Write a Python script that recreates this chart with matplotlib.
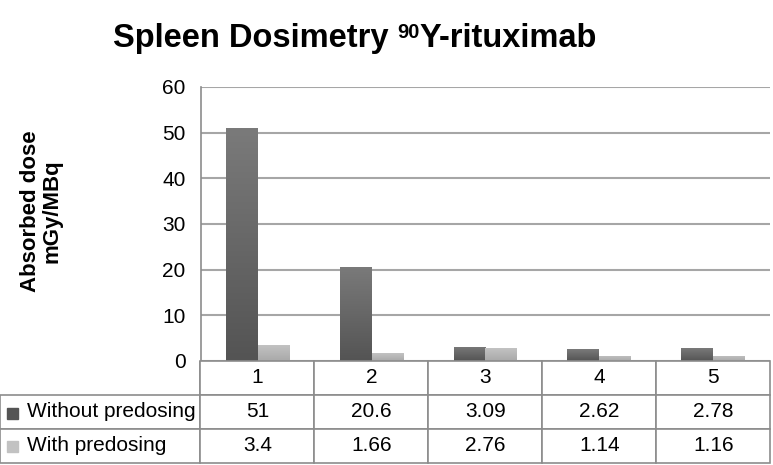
import numpy as np
import matplotlib.pyplot as plt
from matplotlib.colors import LinearSegmentedColormap
from matplotlib.patches import Rectangle

plt.rcParams['font.family'] = ['Liberation Sans', 'DejaVu Sans']

# data
patients = ['1', '2', '3', '4', '5']
without_predosing = [51, 20.6, 3.09, 2.62, 2.78]
with_predosing = [3.4, 1.66, 2.76, 1.14, 1.16]
without_labels = ['51', '20.6', '3.09', '2.62', '2.78']
with_labels = ['3.4', '1.66', '2.76', '1.14', '1.16']
series_names = ['Without predosing', 'With predosing']

dark_top, dark_bot = '#7a7a7a', '#545454'
light_top, light_bot = '#c2c2c2', '#a9a9a9'
grid_col = '#a6a6a6'
edge_col = '#8c8c8c'

W, H = 773, 465
fig = plt.figure(figsize=(W / 100, H / 100), dpi=100)
ax = fig.add_axes([0.260, 0.2237, 0.736, 0.5893])

x = np.arange(len(patients))
w = 0.28
b1 = ax.bar(x - w/2, without_predosing, w, color=dark_bot, zorder=3)
b2 = ax.bar(x + w/2, with_predosing, w, color=light_bot, zorder=3)

# vertical gradient on each bar
def shade(bars, top, bot):
    cmap = LinearSegmentedColormap.from_list('g', [bot, top])
    grad = np.linspace(0, 1, 100).reshape(-1, 1)
    for bar in bars:
        x0, y0 = bar.get_x(), bar.get_y()
        bw, bh = bar.get_width(), bar.get_height()
        im = ax.imshow(grad, extent=[x0, x0 + bw, y0, y0 + bh], origin='lower',
                       cmap=cmap, aspect='auto', zorder=3.5)
        im.set_clip_path(bar)

shade(b1, dark_top, dark_bot)
shade(b2, light_top, light_bot)

ax.set_xlim(-0.5, len(patients) - 0.5)
ax.set_ylim(0, 60)
ax.set_yticks(range(0, 61, 10))
ax.tick_params(axis='y', labelsize=15, length=0, pad=11)
ax.set_xticks([])
ax.yaxis.grid(True, color=grid_col, lw=1.5, zorder=0)
for s in ['top', 'right', 'bottom']:
    ax.spines[s].set_visible(False)
ax.spines['left'].set_color(edge_col)
ax.spines['left'].set_linewidth(1.2)

fig.text(41 / W, 1 - 211 / H, 'Absorbed dose\nmGy/MBq', fontsize=16,
         fontweight='bold', rotation=90, ha='center', va='center', linespacing=1.0)

# title with superscript 90, pieces placed one after another on one baseline
ty = 1 - 47 / H
t1 = fig.text(113 / W, ty, 'Spleen Dosimetry ', fontsize=23.5, fontweight='bold',
              ha='left', va='baseline')
t2 = fig.text(0, ty + 9 / H, '90', fontsize=14.5, fontweight='bold',
              ha='left', va='baseline')
t3 = fig.text(0, ty, 'Y-rituximab', fontsize=23.5, fontweight='bold',
              ha='left', va='baseline')
r = fig.canvas.get_renderer()
e1 = t1.get_window_extent(r)
t2.set_x(e1.x1 / W)
e2 = t2.get_window_extent(r)
t3.set_x(e2.x1 / W)

# data table below the plot
cell_text = [[''] + patients,
             [series_names[0]] + without_labels,
             [series_names[1]] + with_labels]
x0 = -201 / 569
tw = 1 - x0 + 0.001
tbl = ax.table(cellText=cell_text, bbox=[x0, -102 / 274, tw, 102 / 274],
               cellLoc='center', zorder=5)
tbl.auto_set_font_size(False)
tbl.set_fontsize(15)
col_w = [200 / 769] + [113.8 / 769] * 5
for (rr, c), cell in tbl.get_celld().items():
    cell.set_width(col_w[c] * tw)
    cell.set_edgecolor(edge_col)
    cell.set_linewidth(1.2)
    if c == 0:
        cell.get_text().set_ha('left')
        cell.PAD = 0.135
    if rr == 0 and c == 0:
        cell.visible_edges = 'R'

# legend keys in the row labels
for i, col in enumerate([dark_bot, light_top]):
    yc = 413 + 33 * i
    fig.patches.append(Rectangle((7 / W, 1 - (yc + 5.5) / H), 11 / W, 11 / H,
                                 transform=fig.transFigure, color=col, zorder=6))

fig.savefig('out.png', dpi=100)
